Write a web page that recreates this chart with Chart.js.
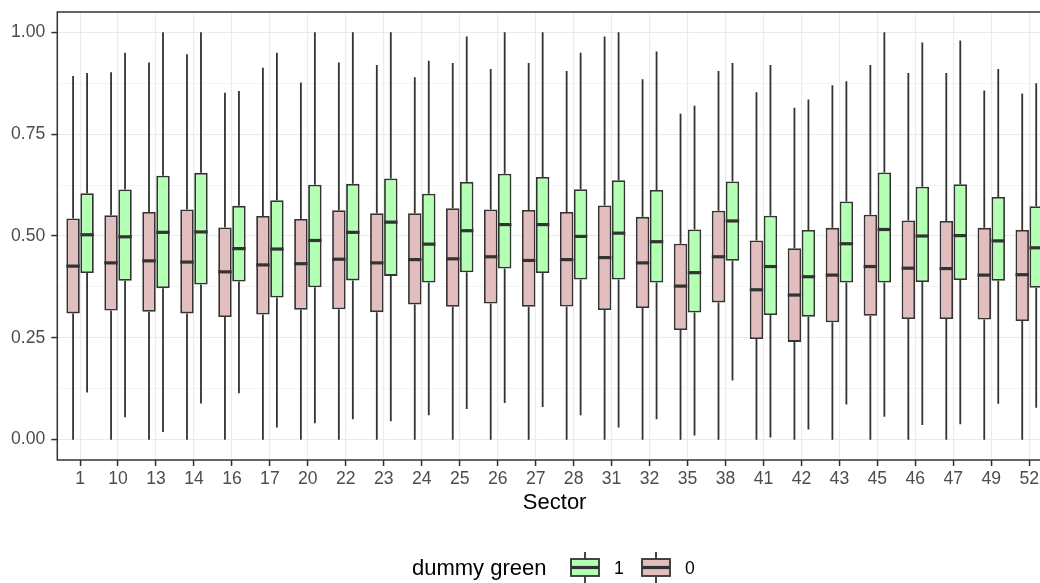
<!DOCTYPE html>
<html>
<head>
<meta charset="utf-8">
<script src="https://cdn.jsdelivr.net/npm/chart.js@4/dist/chart.umd.min.js"></script>
<style>
  html, body { margin: 0; padding: 0; background: #fff; overflow: hidden; }
  #wrap { position: relative; width: 1060px; height: 583px; }
</style>
</head>
<body>
<div id="wrap"><canvas id="boxChart"></canvas></div>
<script>
const sectors = ['1','10','13','14','16','17','20','22','23','24','25','26','27','28','31','32','35','38','41','42','43','45','46','47','49','52'];

// dummy green = 0
const lowerPink  = [0,0,0,0,0,0,0,0,0,0,0,0,0,0,0,0,0,0,0,0,0,0,0,0,0,0];
const q1Pink     = [0.310,0.317,0.314,0.310,0.301,0.307,0.319,0.320,0.313,0.332,0.326,0.334,0.326,0.327,0.318,0.323,0.269,0.337,0.247,0.240,0.288,0.304,0.296,0.296,0.295,0.291];
const medianPink = [0.426,0.434,0.439,0.436,0.412,0.429,0.432,0.443,0.434,0.442,0.444,0.449,0.440,0.442,0.447,0.434,0.377,0.449,0.368,0.355,0.404,0.425,0.421,0.420,0.404,0.405];
const q3Pink     = [0.543,0.551,0.559,0.565,0.521,0.549,0.542,0.563,0.556,0.556,0.568,0.565,0.564,0.559,0.575,0.547,0.481,0.562,0.489,0.470,0.520,0.552,0.538,0.537,0.520,0.515];
const upperPink  = [0.893,0.902,0.926,0.946,0.852,0.913,0.877,0.926,0.920,0.890,0.925,0.910,0.925,0.905,0.990,0.885,0.800,0.905,0.853,0.815,0.870,0.920,0.900,0.900,0.857,0.850];

// dummy green = 1
const lowerGreen  = [0.116,0.055,0.019,0.089,0.114,0.030,0.040,0.050,0.045,0.060,0.075,0.090,0.080,0.060,0.030,0.050,0.010,0.145,0.005,0.025,0.086,0.056,0.036,0.038,0.088,0.078];
const q1Green     = [0.409,0.390,0.372,0.381,0.388,0.349,0.374,0.391,0.402,0.386,0.411,0.420,0.409,0.393,0.393,0.386,0.312,0.439,0.306,0.302,0.386,0.386,0.387,0.392,0.390,0.373];
const medianGreen = [0.503,0.498,0.509,0.510,0.469,0.468,0.489,0.509,0.534,0.480,0.513,0.528,0.528,0.499,0.507,0.486,0.410,0.537,0.425,0.400,0.481,0.516,0.500,0.501,0.488,0.471];
const q3Green     = [0.605,0.614,0.648,0.655,0.574,0.588,0.626,0.628,0.641,0.604,0.633,0.653,0.645,0.615,0.637,0.613,0.516,0.634,0.550,0.515,0.585,0.656,0.621,0.627,0.596,0.573];
const upperGreen  = [0.900,0.950,1.000,1.000,0.856,0.950,1.000,1.000,1.000,0.930,0.990,1.000,1.000,0.950,1.000,0.953,0.820,0.925,0.920,0.835,0.880,1.000,0.975,0.980,0.910,0.875];

const yTicks = [0, 0.125, 0.25, 0.375, 0.5, 0.625, 0.75, 0.875, 1];

const PINK = '#E3BEBE', GREEN = '#B3FFB3', INK = '#333333', GRID = '#EBEBEB';
const FONT = "'Liberation Sans', Arial, sans-serif";
const LW = 1.8, MED_LW = 3.2;
const isMajor = v => Math.abs(v * 4 - Math.round(v * 4)) < 1e-6;

function boxData(q1, q3) { return sectors.map((s, i) => ({ x: i, y: [q1[i], q3[i]] })); }

// whiskers behind the boxes, medians + panel border on top, legend drawn by hand
const boxplotParts = {
  id: 'boxplotParts',
  beforeDatasetsDraw(chart) {
    const ctx = chart.ctx, y = chart.scales.y;
    const sets = [[lowerPink, upperPink, q1Pink, q3Pink], [lowerGreen, upperGreen, q1Green, q3Green]];
    ctx.save();
    ctx.strokeStyle = INK; ctx.lineWidth = LW;
    sets.forEach((s, d) => {
      chart.getDatasetMeta(d).data.forEach((bar, i) => {
        ctx.beginPath();
        ctx.moveTo(bar.x, y.getPixelForValue(s[0][i])); ctx.lineTo(bar.x, y.getPixelForValue(s[2][i]));
        ctx.moveTo(bar.x, y.getPixelForValue(s[3][i])); ctx.lineTo(bar.x, y.getPixelForValue(s[1][i]));
        ctx.stroke();
      });
    });
    ctx.restore();
  },
  afterDatasetsDraw(chart) {
    const ctx = chart.ctx, y = chart.scales.y, a = chart.chartArea;
    ctx.save();
    ctx.strokeStyle = INK; ctx.lineWidth = MED_LW;
    [medianPink, medianGreen].forEach((med, d) => {
      chart.getDatasetMeta(d).data.forEach((bar, i) => {
        const py = y.getPixelForValue(med[i]);
        ctx.beginPath(); ctx.moveTo(bar.x - bar.width / 2, py); ctx.lineTo(bar.x + bar.width / 2, py); ctx.stroke();
      });
    });
    ctx.lineWidth = 1.5;
    ctx.strokeRect(a.left, a.top, a.right - a.left, a.bottom - a.top);
    ctx.restore();
  },
  afterDraw(chart) {
    const ctx = chart.ctx;
    ctx.save();
    ctx.fillStyle = '#000';
    ctx.font = '22px ' + FONT;
    ctx.textBaseline = 'alphabetic';
    ctx.fillText('dummy green', 412, 575);
    const keys = [[GREEN, '1', 571], [PINK, '0', 642]];
    keys.forEach(([fill, label, x0]) => {
      const w = 28, top = 559, h = 17, cx = x0 + w / 2;
      ctx.strokeStyle = INK; ctx.lineWidth = LW;
      ctx.beginPath(); ctx.moveTo(cx, 552); ctx.lineTo(cx, 592); ctx.stroke();
      ctx.fillStyle = fill; ctx.fillRect(x0, top, w, h);
      ctx.strokeRect(x0, top, w, h);
      ctx.lineWidth = MED_LW;
      ctx.beginPath(); ctx.moveTo(x0, top + h / 2); ctx.lineTo(x0 + w, top + h / 2); ctx.stroke();
      ctx.fillStyle = '#000';
      ctx.font = '17.6px ' + FONT;
      ctx.fillText(label, x0 + w + 15, 574);
    });
    ctx.restore();
  }
};

const ctx = document.getElementById('boxChart').getContext('2d');
const chart = new Chart(ctx, {
  type: 'bar',
  data: {
    datasets: [
      { label: '0', data: boxData(q1Pink, q3Pink), backgroundColor: PINK, borderColor: INK, borderWidth: LW, borderSkipped: false },
      { label: '1', data: boxData(q1Green, q3Green), backgroundColor: GREEN, borderColor: INK, borderWidth: LW, borderSkipped: false }
    ]
  },
  options: {
    responsive: true,
    maintainAspectRatio: false,
    animation: false,
    categoryPercentage: 0.737,
    barPercentage: 0.96,
    layout: { padding: { left: 0, right: 8, top: 12, bottom: 63 } },
    plugins: { legend: { display: false }, tooltip: { enabled: false } },
    scales: {
      x: {
        type: 'linear', min: -0.6, max: 25.6, offset: false,
        afterBuildTicks: s => { s.ticks = sectors.map((c, i) => ({ value: i })); },
        afterFit: s => { s.height = 60; s.paddingLeft = 0; s.paddingRight = 0; },
        border: { display: false },
        grid: { offset: false, color: GRID, lineWidth: 1.1, tickColor: INK, tickLength: 6, tickWidth: 1.5 },
        ticks: { autoSkip: false, maxRotation: 0, padding: 3, color: '#4D4D4D', font: { family: FONT, size: 17.6 }, callback: v => sectors[v] },
        title: { display: true, text: 'Sector', color: '#000', font: { family: FONT, size: 22 }, padding: { top: 0, bottom: 4 } }
      },
      y: {
        min: -0.05, max: 1.05,
        afterBuildTicks: s => { s.ticks = yTicks.map(v => ({ value: v })); },
        afterFit: s => { s.width = 57.3; s.paddingTop = 0; s.paddingBottom = 0; },
        border: { display: false },
        grid: {
          color: GRID,
          lineWidth: c => isMajor(c.tick.value) ? 1.1 : 0.55,
          tickColor: c => isMajor(c.tick.value) ? INK : 'rgba(0,0,0,0)',
          tickLength: 6, tickWidth: 1.5
        },
        ticks: { autoSkip: false, padding: 6, color: '#4D4D4D', font: { family: FONT, size: 17.6 }, callback: v => isMajor(v) ? v.toFixed(2) : '' }
      }
    }
  },
  plugins: [boxplotParts]
});
</script>
</body>
</html>
